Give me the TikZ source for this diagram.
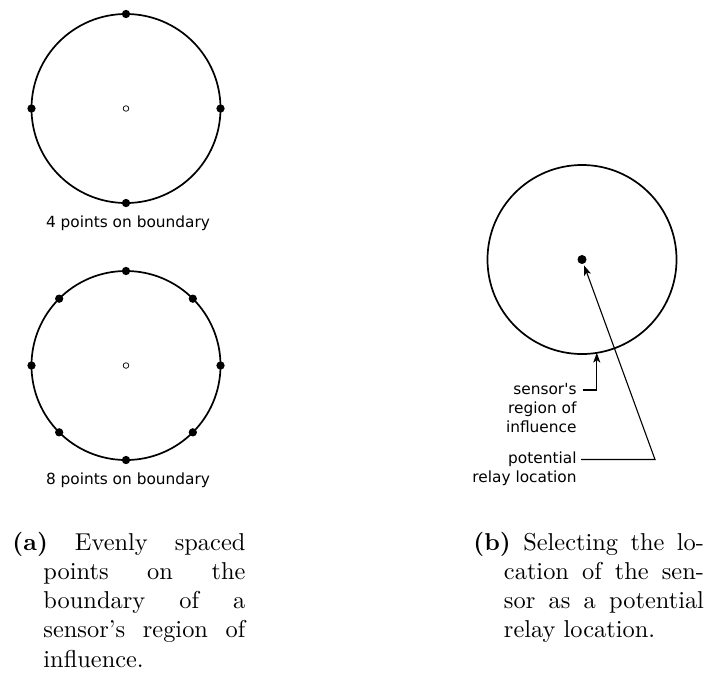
\documentclass[tikz,border=0pt]{standalone}
\usepackage{fontspec}
\newfontfamily\lblfont{DejaVu Sans}
\usetikzlibrary{arrows.meta}
\tikzset{
  ring/.style={draw, circle, line width=0.7pt, inner sep=0pt, outer sep=0pt, minimum size=77.5pt},
  dot/.style={fill, circle, inner sep=0pt, outer sep=0pt, minimum size=3.4pt},
  bigdot/.style={fill, circle, inner sep=0pt, outer sep=0pt, minimum size=3.7pt},
  hole/.style={draw, circle, line width=0.3pt, inner sep=0pt, outer sep=0pt, minimum size=2.3pt, fill=white},
  lbl/.style={inner sep=0pt, font=\lblfont\fontsize{6.3}{7.8}\selectfont},
  conn/.style={line width=0.45pt},
  arr/.style={-{Stealth[length=4pt, width=2.9pt, inset=1pt]}},
  capbox/.style={inner sep=0pt, anchor=base west}
}
\begin{document}
\begin{tikzpicture}[x=0.41pt, y=-0.41pt]
\useasboundingbox (0,0) rectangle (705,681);

% --- (a) top: 4 points
\node[ring] (r1) at (126,108.5) {};
\node[hole] (c1) at (r1.center) {};
\foreach \a in {0,90,180,270} \node[dot] (pa\a) at (r1.\a) {};
\node[lbl, anchor=base] (t1) at (128,227) {4 points on boundary};

% --- (a) bottom: 8 points
\node[ring] (r2) at (126,365.5) {};
\node[hole] (c2) at (r2.center) {};
\foreach \a in {0,45,...,315} \node[dot] (pb\a) at (r2.\a) {};
\node[lbl, anchor=base] (t2) at (128,484) {8 points on boundary};

% --- (b)
\node[ring] (r3) at (582,259.5) {};
\node[bigdot] (s) at (r3.center) {};

\node[lbl, anchor=base east] (l1) at (577,394)
  {\begin{tabular}[t]{@{}r@{}}sensor's\\region of\\influence\end{tabular}};
\coordinate (a1) at (583,390);
\draw[conn, arr] (a1) -| (r3.-81);

\node[lbl, anchor=base east] (l2) at (577,463)
  {\begin{tabular}[t]{@{}r@{}}potential\\relay location\end{tabular}};
\coordinate (b1) at (581,459.5);
\coordinate (b2) at (655,459.5);
\draw[conn, arr, shorten >=0.8pt] (b1) -- (b2) -- (s);

% --- captions
\node[capbox] (capa) at (12,550) {\parbox[t]{95.5pt}{\parindent=0pt\hangindent=12.7pt\hangafter=1
  \textbf{(a)} Evenly spaced\linebreak points on the\linebreak boundary of a\linebreak sensor's region of\linebreak influence.}};
\node[capbox] (capb) at (473,550) {\parbox[t]{94.5pt}{\parindent=0pt\hangindent=12.5pt\hangafter=1
  \textbf{(b)} Selecting the lo-\linebreak cation of the sen-\linebreak sor as a potential\linebreak relay location.}};
\end{tikzpicture}
\end{document}
